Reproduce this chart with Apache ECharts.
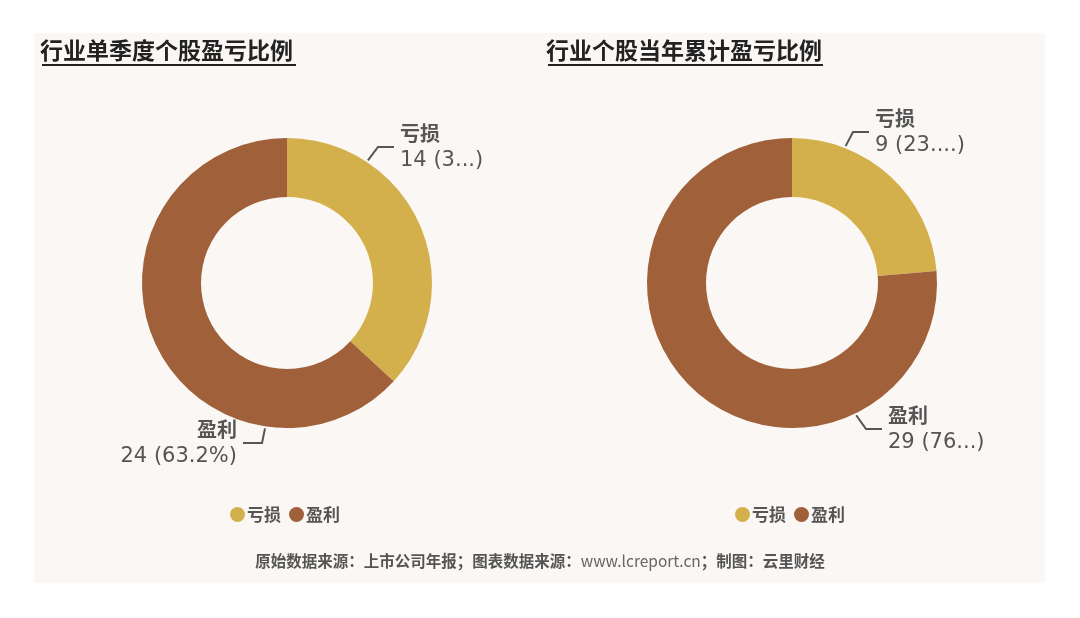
<!DOCTYPE html>
<html>
<head>
<meta charset="utf-8">
<title>行业个股盈亏比例</title>
<script src="https://cdn.jsdelivr.net/npm/echarts@6/dist/echarts.min.js"></script>
<style>
  html, body { margin: 0; padding: 0; background: #ffffff; }
  #main { width: 1080px; height: 618px; }
</style>
</head>
<body>
<div id="main"></div>
<script>
// 分类
var categories = ['亏损', '盈利'];
// 单季度个股数
var quarterValues = [14, 24];
// 当年累计个股数
var yearValues = [9, 29];
// 标签里百分比显示的字符数（原图被截断）
var quarterPctChars = [1, 5];
var yearPctChars = [3, 2];
// 标题
var chartTitles = ['行业单季度个股盈亏比例', '行业个股当年累计盈亏比例'];
var sourceText = ['原始数据来源：上市公司年报；图表数据来源：', 'www.lcreport.cn', '；制图：云里财经'];

var colors = ['#d4b04c', '#a0603a'];
var labelFont = "'DejaVu Sans', 'Noto Sans CJK SC', sans-serif";
var cjkFont = "'Noto Sans CJK SC', sans-serif";

var pieCenters = [[287, 283], [792, 283]];
var outerR = 145;
// 标签位置：引导线起点角度、文字锚点
var labelSpots = [
	[{ angle: 56.6, x: 400, y: 147 }, { angle: -98.6, x: 237, y: 443 }],
	[{ angle: 68.6, x: 875, y: 132 }, { angle: -64.1, x: 888, y: 429 }]
];

function buildData(values){
	var data = [];
	for(var i = 0; i < categories.length; i++){
		data.push({ name: categories[i], value: values[i] });
	}
	return data;
}

function makePie(values, center, pctChars){
	return {
		type: 'pie',
		radius: [86, outerR],
		center: center,
		startAngle: 90,
		clockwise: true,
		percentPrecision: 1,
		avoidLabelOverlap: false,
		silent: true,
		data: buildData(values),
		label: {
			show: true,
			formatter: function(p){
				var pct = p.percent + '%';
				var n = pctChars[p.dataIndex];
				if(n < pct.length){
					pct = pct.slice(0, n) + '...';
				}
				return '{n|' + p.name + '}\n{v|' + p.value + ' (' + pct + ')}';
			},
			rich: {
				n: { fontFamily: cjkFont, fontSize: 20, fontWeight: 'bold', color: '#555', lineHeight: 27 },
				v: { fontFamily: labelFont, fontSize: 21, color: '#555', lineHeight: 27 }
			}
		},
		labelLine: {
			show: true,
			lineStyle: { color: '#555', width: 2 }
		},
		labelLayout: function(params){
			var s = params.seriesIndex;
			var spot = labelSpots[s][params.dataIndex];
			var c = pieCenters[s];
			var rad = spot.angle * Math.PI / 180;
			var sx = c[0] + (outerR + 2) * Math.cos(rad);
			var sy = c[1] - (outerR + 2) * Math.sin(rad);
			var onLeft = spot.x < c[0];
			var endX = onLeft ? spot.x + 6 : spot.x - 6;
			var elbowX = onLeft ? endX + 19 : endX - 16;
			return {
				x: spot.x,
				y: spot.y,
				align: onLeft ? 'right' : 'left',
				verticalAlign: 'middle',
				labelLinePoints: [[sx, sy], [elbowX, spot.y], [endX, spot.y]]
			};
		}
	};
}

var myChart = echarts.init(document.getElementById('main'));

var option = {
	backgroundColor: '#ffffff',
	color: colors,
	animation: false,
	graphic: [
		{
			type: 'rect', z: -10,
			shape: { x: 34, y: 33, width: 1011, height: 550 },
			style: { fill: '#faf7f4' }
		},
		{
			type: 'line',
			shape: { x1: 42, y1: 65, x2: 296, y2: 65 },
			style: { stroke: '#222', lineWidth: 2 }
		},
		{
			type: 'line',
			shape: { x1: 548, y1: 65, x2: 823, y2: 65 },
			style: { stroke: '#222', lineWidth: 2 }
		}
	],
	title: [
		{
			text: chartTitles[0], left: 40, top: 39, padding: 0,
			textStyle: { fontFamily: cjkFont, fontSize: 23, fontWeight: 'bold', color: '#222' }
		},
		{
			text: chartTitles[1], left: 546, top: 39, padding: 0,
			textStyle: { fontFamily: cjkFont, fontSize: 23, fontWeight: 'bold', color: '#222' }
		},
		{
			text: '{a|' + sourceText[0] + '}{b|' + sourceText[1] + '}{a|' + sourceText[2] + '}',
			left: 'center', top: 553, padding: 0,
			textStyle: {
				rich: {
					a: { fontFamily: cjkFont, fontSize: 15.5, fontWeight: 'bold', color: '#555' },
					b: { fontFamily: cjkFont, fontSize: 15.5, fontWeight: 'normal', color: '#666' }
				}
			}
		}
	],
	legend: [
		{
			data: categories, left: 225, top: 501,
			icon: 'circle', itemWidth: 15, itemHeight: 15, itemGap: 8,
			textStyle: { fontFamily: cjkFont, fontSize: 17, fontWeight: 'bold', color: '#555', padding: [0, 0, 0, -3] }
		},
		{
			data: categories, left: 730, top: 501,
			icon: 'circle', itemWidth: 15, itemHeight: 15, itemGap: 8,
			textStyle: { fontFamily: cjkFont, fontSize: 17, fontWeight: 'bold', color: '#555', padding: [0, 0, 0, -3] }
		}
	],
	series: [
		makePie(quarterValues, pieCenters[0], quarterPctChars),
		makePie(yearValues, pieCenters[1], yearPctChars)
	]
};

myChart.setOption(option);
</script>
</body>
</html>
